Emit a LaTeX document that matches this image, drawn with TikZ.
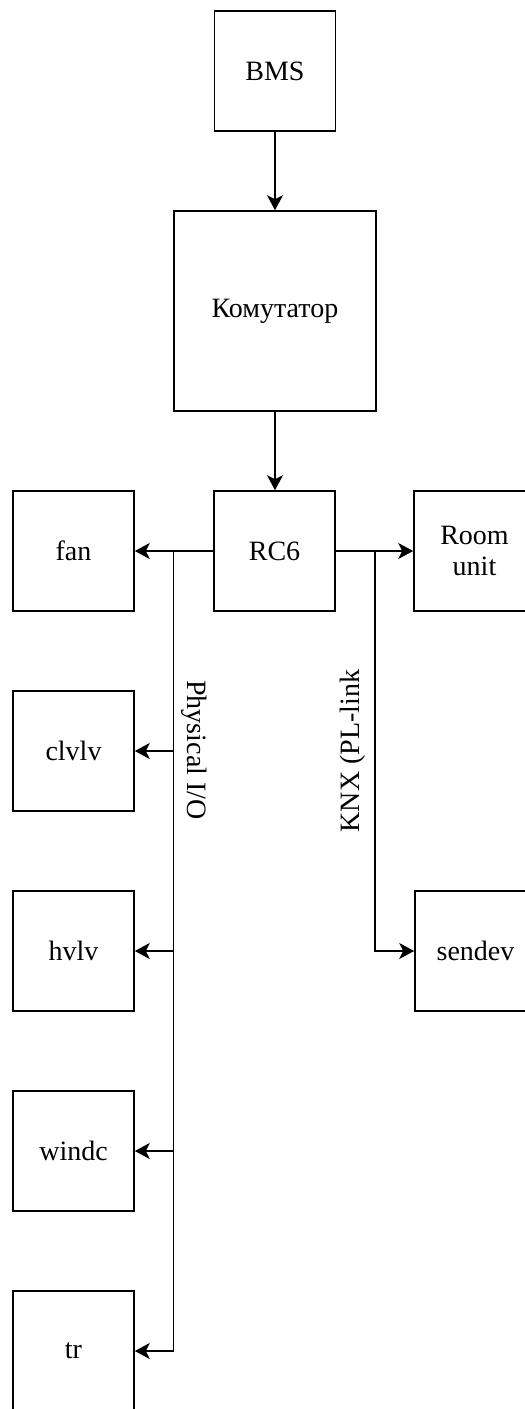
\documentclass[tikz,border=0pt]{standalone}
\usepackage{fontspec}
\setmainfont{Liberation Serif}
\usetikzlibrary{arrows.meta}
\begin{document}
\begin{tikzpicture}[x=1pt,y=-1pt,
  box/.style={draw,line width=1.6pt,minimum width=121pt,minimum height=120pt,inner sep=0pt,align=center,
    font=\fontsize{28}{31}\selectfont},
  lbl/.style={inner sep=0pt,font=\fontsize{28}{31}\selectfont},
  conn/.style={line width=1.6pt},
  arr/.style={conn,-{Stealth[length=15pt,width=16pt,inset=4pt]}}]
\useasboundingbox (0,0) rectangle (525,1409);
\node[box] (bms) at (275,71) {BMS};
\node[box,minimum width=202pt,minimum height=200pt] (kom) at (275,311) {Комутатор};
\node[box] (rc6) at (274.5,551) {RC6};
\node[box] (fan) at (73.5,551) {fan};
\node[box] (clvlv) at (73.5,751) {clvlv};
\node[box] (hvlv) at (73.5,951) {hvlv};
\node[box] (windc) at (73.5,1151) {windc};
\node[box] (tr) at (73.5,1351) {tr};
\node[box] (room) at (474.5,551) {Room\\unit};
\node[box] (sendev) at (475.5,951) {sendev};
\coordinate (jl) at (173.5,551);
\coordinate (jr) at (375,551);
\draw[arr] (bms.south) -- (bms.south |- kom.north);
\draw[arr] (kom.south) -- (kom.south |- rc6.north);
\draw[arr] (rc6.west) -- (fan.east);
\draw[arr] (rc6.east) -- (room.west);
\draw[arr] (jl) |- (tr.east);
\draw[arr] (jl |- clvlv.east) -- (clvlv.east);
\draw[arr] (jl |- hvlv.east) -- (hvlv.east);
\draw[arr] (jl |- windc.east) -- (windc.east);
\draw[arr] (jr) |- (sendev.west);
\node[lbl,rotate=-90] (phys) at (194,750) {Physical I/O};
\node[lbl,rotate=90] (knx) at (353,751) {KNX (PL-link};
\end{tikzpicture}
\end{document}
